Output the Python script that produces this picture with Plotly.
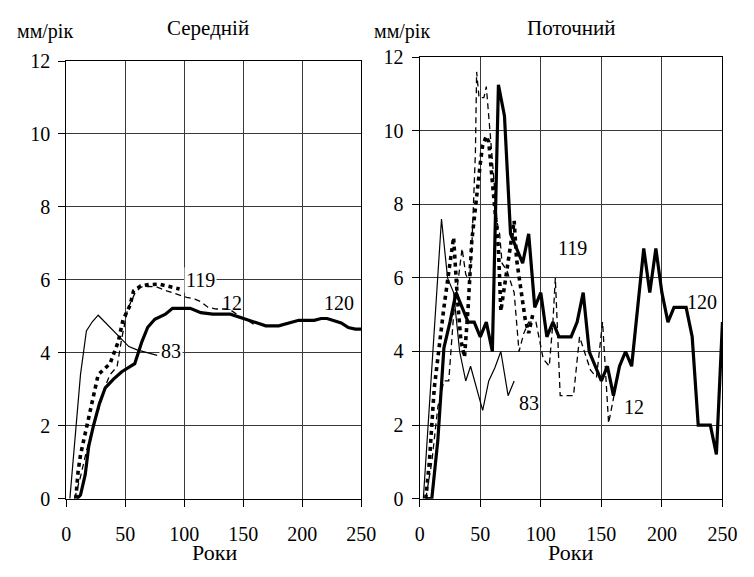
import plotly.graph_objects as go

# ---------------- data: "Середній" (left panel) ----------------
L83_x = [3, 12, 17, 22, 27, 37, 47, 53, 60, 65, 70, 77]
L83_y = [0, 3.4, 4.6, 4.85, 5.03, 4.7, 4.37, 4.17, 4.08, 4.04, 4.0, 3.93]

L12_x = [7, 12, 17, 22, 27, 32, 37, 43, 47, 52, 58, 63, 70, 77, 85, 94, 102, 109, 114, 120, 127, 138, 147, 153, 160]
L12_y = [0, 0.6, 1.3, 1.9, 2.4, 3.0, 3.4, 3.62, 4.4, 5.2, 5.62, 5.8, 5.82, 5.8, 5.7, 5.6, 5.52, 5.47, 5.4, 5.25, 5.2, 5.2, 5.0, 4.9, 4.76]

L119_x = [8, 10, 12, 17, 20, 27, 32, 37, 44, 48, 54, 57, 63, 70, 79, 88, 96]
L119_y = [0, 0.75, 1.2, 1.9, 2.4, 3.4, 3.55, 3.7, 4.3, 4.9, 5.3, 5.7, 5.83, 5.87, 5.88, 5.8, 5.75]

L120_x = [9, 12, 16, 19, 23, 28, 33, 40, 47, 54, 58, 64, 69, 75, 84, 90, 105, 114, 124, 139, 148,
          162, 169, 180, 190, 197, 210, 216, 221, 233, 239, 245, 250]
L120_y = [0, 0.1, 0.66, 1.44, 2.0, 2.6, 3.04, 3.28, 3.48, 3.62, 3.7, 4.3, 4.7, 4.92, 5.06, 5.22, 5.22,
          5.1, 5.06, 5.06, 4.96, 4.8, 4.74, 4.74, 4.84, 4.89, 4.89, 4.94, 4.94, 4.82, 4.69, 4.65, 4.65]

# ---------------- data: "Поточний" (right panel) ----------------
R83_x = [3, 18, 23, 28, 33, 38, 42, 52, 57, 62, 67, 73, 78]
R83_y = [0, 7.6, 6.0, 5.6, 4.0, 3.2, 3.6, 2.4, 3.2, 3.55, 4.0, 2.8, 3.2]

R12_x = [5, 10, 15, 20, 24, 28, 32, 35, 38, 41, 43, 46, 47, 49, 53, 55, 60, 64, 66, 68, 72, 78, 82,
         86, 90, 96, 102, 107, 110, 112, 116, 127, 132, 135, 141, 146, 151, 156, 161]
R12_y = [0, 1.0, 2.5, 3.2, 3.2, 5.0, 6.0, 6.8, 6.1, 5.9, 6.8, 9.4, 11.6, 10.9, 10.9, 11.2, 9.2, 7.5,
         7.2, 6.4, 6.2, 5.6, 4.0, 4.5, 4.8, 4.8, 3.8, 3.6, 4.8, 6.0, 2.8, 2.8, 4.4, 4.1, 3.5, 3.3,
         4.8, 2.05, 2.9]

R119_x = [5, 8, 12, 15, 20, 25, 28, 31, 34, 37, 40, 43, 47, 50, 52, 55, 57, 61, 63, 65, 67, 72, 75,
          78, 80, 83, 87, 90, 94]
R119_y = [0, 1.0, 3.0, 3.9, 5.2, 6.4, 7.1, 5.5, 4.3, 3.85, 5.2, 7.0, 8.3, 9.1, 9.6, 9.85, 9.7, 8.3,
          7.7, 6.8, 5.1, 6.2, 7.0, 7.55, 6.5, 5.8, 4.9, 4.5, 5.1]

R120_x = [5, 10, 15, 20, 25, 30, 35, 40, 45, 50, 55, 60, 65, 70, 75, 80, 85, 90, 95, 100, 105, 110,
          115, 120, 125, 130, 135, 140, 145, 150, 155, 160, 165, 170, 175, 180, 185, 190, 195, 200,
          205, 210, 215, 220, 225, 230, 235, 240, 245, 250]
R120_y = [0, 0, 1.6, 4.1, 4.8, 5.6, 5.2, 4.8, 4.8, 4.4, 4.8, 4.0, 11.25, 10.4, 7.2, 6.8, 6.4, 7.2,
          5.2, 5.6, 4.4, 4.8, 4.4, 4.4, 4.4, 4.8, 5.6, 4.0, 3.6, 3.2, 3.6, 2.8, 3.6, 4.0, 3.6, 5.2,
          6.8, 5.6, 6.8, 5.6, 4.8, 5.2, 5.2, 5.2, 4.4, 2.0, 2.0, 2.0, 1.2, 4.8]

x_ticks = [0, 50, 100, 150, 200, 250]
y_ticks = [0, 2, 4, 6, 8, 10, 12]

FONT = "Times New Roman, Liberation Serif, DejaVu Serif, serif"
W, H = 754, 577

styles = {
    "83": dict(color="black", width=1.2),
    "12": dict(color="black", width=1.3, dash="6px,4px"),
    "119": dict(color="black", width=3.6, dash="4px,4px"),
    "120": dict(color="black", width=3.2),
}

fig = go.Figure()

def add(x, y, name, xa, ya):
    fig.add_trace(go.Scatter(x=x, y=y, mode="lines", name=name, line=styles[name],
                             xaxis=xa, yaxis=ya, showlegend=False, hoverinfo="skip"))

add(L83_x, L83_y, "83", "x", "y")
add(L12_x, L12_y, "12", "x", "y")
add(L119_x, L119_y, "119", "x", "y")
add(L120_x, L120_y, "120", "x", "y")

add(R83_x, R83_y, "83", "x2", "y2")
add(R12_x, R12_y, "12", "x2", "y2")
add(R119_x, R119_y, "119", "x2", "y2")
add(R120_x, R120_y, "120", "x2", "y2")

def px_x(p):
    return p / W

def px_y(p):
    return 1 - p / H

axis_common = dict(showgrid=True, gridcolor="#3a3a3a", gridwidth=1, showline=True,
                   linecolor="black", linewidth=1.2, mirror=True, ticks="outside",
                   ticklen=7, tickcolor="black", tickwidth=1,
                   tickfont=dict(family=FONT, size=20, color="black"), zeroline=False)

fig.update_layout(
    width=W, height=H, margin=dict(l=0, r=0, t=0, b=0),
    paper_bgcolor="white", plot_bgcolor="white",
    font=dict(family=FONT, color="black"),
    xaxis=dict(domain=[px_x(63), px_x(366)], range=[0, 250], tickvals=x_ticks, anchor="y",
               ticklabelstandoff=10, **axis_common),
    yaxis=dict(domain=[px_y(507), px_y(52)], range=[0, 12], tickvals=y_ticks, anchor="x",
               ticklabelstandoff=4, **axis_common),
    xaxis2=dict(domain=[px_x(426), px_x(737)], range=[0, 250], tickvals=x_ticks, anchor="y2",
                ticklabelstandoff=10, **axis_common),
    yaxis2=dict(domain=[px_y(507), px_y(48)], range=[0, 12], tickvals=y_ticks, anchor="x2",
                ticklabelstandoff=4, **axis_common),
)

ann = []
def text_paper(t, xp, yp, size):
    ann.append(dict(text=t, x=px_x(xp), y=px_y(yp), xref="paper", yref="paper", showarrow=False,
                    xanchor="center", yanchor="middle", font=dict(family=FONT, size=size, color="black")))

text_paper("Середній", 209, 18, 21)
text_paper("Поточний", 582, 18, 21)
text_paper("мм/рік", 41, 21, 20)
text_paper("мм/рік", 408, 21, 20)
text_paper("Роки", 215, 563, 22)
text_paper("Роки", 581, 563, 22)

def label(t, x, y, xr, yr, bg=None):
    d = dict(text=t, x=x, y=y, xref=xr, yref=yr, showarrow=False, xanchor="center", yanchor="middle",
             font=dict(family=FONT, size=20, color="black"), borderpad=1)
    if bg:
        d["bgcolor"] = bg
    ann.append(d)

label("119", 114, 6.0, "x", "y", "white")
label("12", 140, 5.37, "x", "y")
label("120", 231, 5.37, "x", "y")
label("83", 89, 4.05, "x", "y", "white")

label("119", 126, 6.8, "x2", "y2")
label("120", 233, 5.34, "x2", "y2")
label("83", 90, 2.6, "x2", "y2")
label("12", 177, 2.5, "x2", "y2")

fig.update_layout(annotations=ann)
fig.write_html("out.html", config={"displayModeBar": False},
               post_script="document.body.style.margin='0';document.body.style.overflow='hidden';")
